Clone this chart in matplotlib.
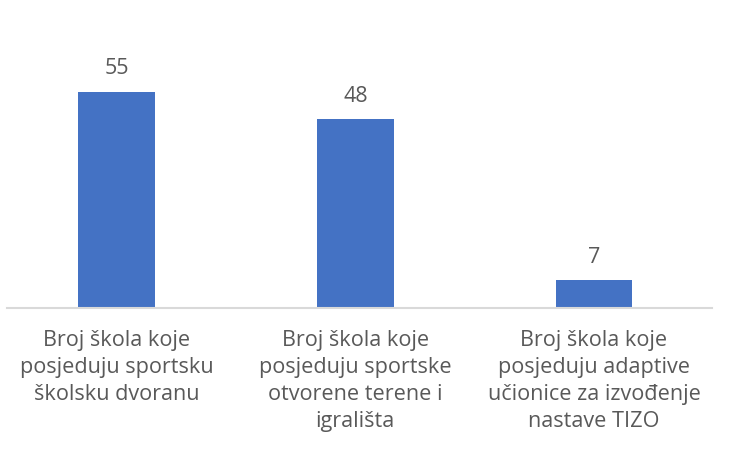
import matplotlib
matplotlib.use("Agg")
import matplotlib.pyplot as plt

categories = [
    "Broj škola koje\nposjeduju sportsku\nškolsku dvoranu",
    "Broj škola koje\nposjeduju sportske\notvorene terene i\nigrališta",
    "Broj škola koje\nposjeduju adaptive\nučionice za izvođenje\nnastave TIZO",
]
values = [55, 48, 7]

bar_color = "#4472C4"
text_color = "#595959"

plt.rcParams["font.family"] = ["Open Sans", "DejaVu Sans"]

fig = plt.figure(figsize=(7.33, 4.5), dpi=100)
ax = fig.add_axes([7 / 733, 142 / 450, 705 / 733, 236 / 450])

x = list(range(len(values)))
bars = ax.bar(x, values, width=0.32, color=bar_color, zorder=2)
ax.bar_label(bars, labels=[str(v) for v in values], padding=9,
             fontsize=15.5, color=text_color)

ax.set_xlim(-0.459, 2.494)
ax.set_ylim(0, 60)
ax.set_yticks([])
ax.set_xticks(x)
ax.set_xticklabels(categories, fontsize=15.6, color=text_color,
                   linespacing=1.36, va="top")
ax.tick_params(axis="x", length=0, pad=16)

for side in ["top", "right", "left"]:
    ax.spines[side].set_visible(False)
ax.spines["bottom"].set_color("#D9D9D9")
ax.spines["bottom"].set_linewidth(1.5)

fig.savefig("out.png", dpi=100)
